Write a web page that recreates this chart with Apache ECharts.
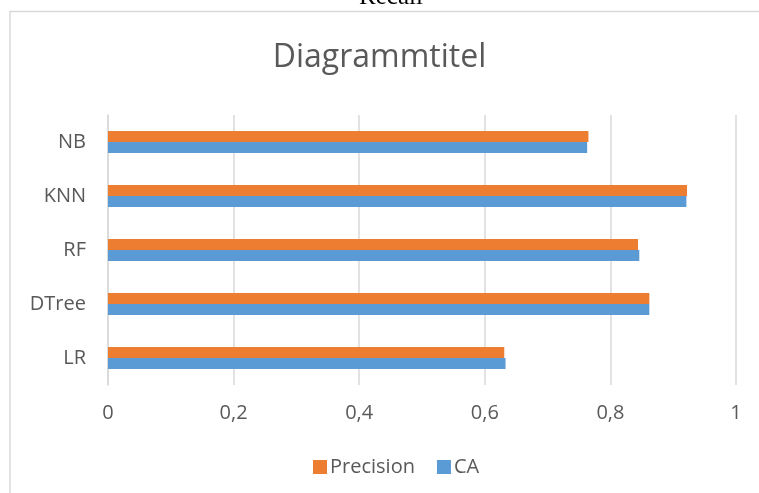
<!DOCTYPE html>
<html>
<head>
<meta charset="utf-8">
<script src="https://cdn.jsdelivr.net/npm/echarts@6/dist/echarts.min.js"></script>
<style>
  html, body { margin: 0; padding: 0; background: #fff; }
  #chart { width: 759px; height: 493px; }
</style>
</head>
<body>
<div id="chart"></div>
<script>
// Models, listed bottom to top as drawn on the category axis
const categories = ['LR', 'DTree', 'RF', 'KNN', 'NB'];
const caValues = [0.633, 0.862, 0.846, 0.921, 0.763];
const precisionValues = [0.631, 0.862, 0.844, 0.922, 0.765];
const xTicks = [0, 0.2, 0.4, 0.6, 0.8, 1];

const textColor = '#595959';
const gridColor = '#d9d9d9';
const font = 'Open Sans';

const chart = echarts.init(document.getElementById('chart'), null, { renderer: 'canvas' });

chart.setOption({
  backgroundColor: '#ffffff',
  animation: false,
  textStyle: { fontFamily: font, color: textColor },
  title: {
    text: 'Diagrammtitel',
    left: 'center',
    top: 37,
    textStyle: { fontFamily: font, fontSize: 32, fontWeight: 'normal', color: textColor }
  },
  graphic: [
    {
      type: 'rect',
      shape: { x: 10, y: 11.5, width: 760, height: 500 },
      style: { fill: 'none', stroke: gridColor, lineWidth: 1.5 },
      z: 0
    },
    {
      type: 'text',
      x: 391,
      y: -3,
      style: {
        text: 'Recall',
        font: '25px "Liberation Serif"',
        fill: '#000',
        textAlign: 'center',
        textVerticalAlign: 'middle'
      },
      z: 10
    }
  ],
  legend: {
    data: ['Precision', 'CA'],
    left: 308,
    top: 452,
    itemWidth: 14,
    itemHeight: 14,
    itemGap: 22,
    icon: 'rect',
    textStyle: { fontFamily: font, fontSize: 20, color: textColor, padding: [0, 0, 0, -2] }
  },
  grid: {
    left: 108,
    right: 23,
    top: 115,
    bottom: 108,
    containLabel: false
  },
  xAxis: {
    type: 'value',
    min: xTicks[0],
    max: xTicks[xTicks.length - 1],
    interval: 0.2,
    axisLine: { show: false },
    axisTick: { show: false },
    splitLine: { show: true, lineStyle: { color: gridColor, width: 1.5 } },
    axisLabel: {
      fontFamily: font,
      fontSize: 20,
      color: textColor,
      margin: 18,
      formatter: v => String(Math.round(v * 10) / 10).replace('.', ',')
    }
  },
  yAxis: {
    type: 'category',
    data: categories,
    axisLine: { show: true, lineStyle: { color: gridColor, width: 1.5 } },
    axisTick: { show: false },
    axisLabel: { fontFamily: font, fontSize: 20, color: textColor, margin: 22 }
  },
  series: [
    {
      name: 'Precision',
      type: 'bar',
      data: precisionValues,
      itemStyle: { color: '#ED7D31' },
      barWidth: 11,
      barGap: '0%',
      z: 2
    },
    {
      name: 'CA',
      type: 'bar',
      data: caValues,
      itemStyle: { color: '#5B9BD5' },
      barWidth: 11,
      barGap: '0%',
      z: 2
    }
  ]
});
</script>
</body>
</html>
